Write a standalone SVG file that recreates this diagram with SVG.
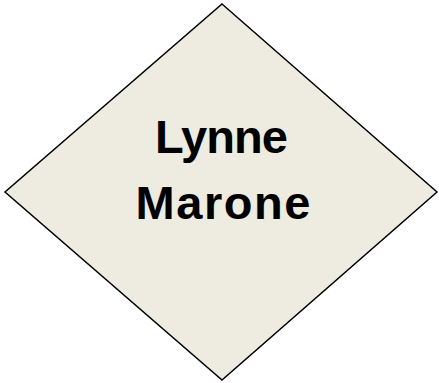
<svg xmlns="http://www.w3.org/2000/svg" width="439" height="383" viewBox="0 0 439 383">
<style>
.shape{fill:#EEECE1;stroke:#000;stroke-width:1.5}
.label{font-family:"Liberation Sans",Arial,sans-serif;font-weight:bold;font-size:47px;fill:#000;text-anchor:middle}
</style>
<rect width="439" height="383" fill="#fff"/>
<g id="node-lynne-marone">
<polygon class="shape" points="222,4 437,192 222,380 5,192"/>
<text class="label" x="221.5" y="153" textLength="133" lengthAdjust="spacing">Lynne</text>
<text class="label" x="223" y="219" textLength="175" lengthAdjust="spacing">Marone</text>
</g>
<g id="connectors"></g>
</svg>
